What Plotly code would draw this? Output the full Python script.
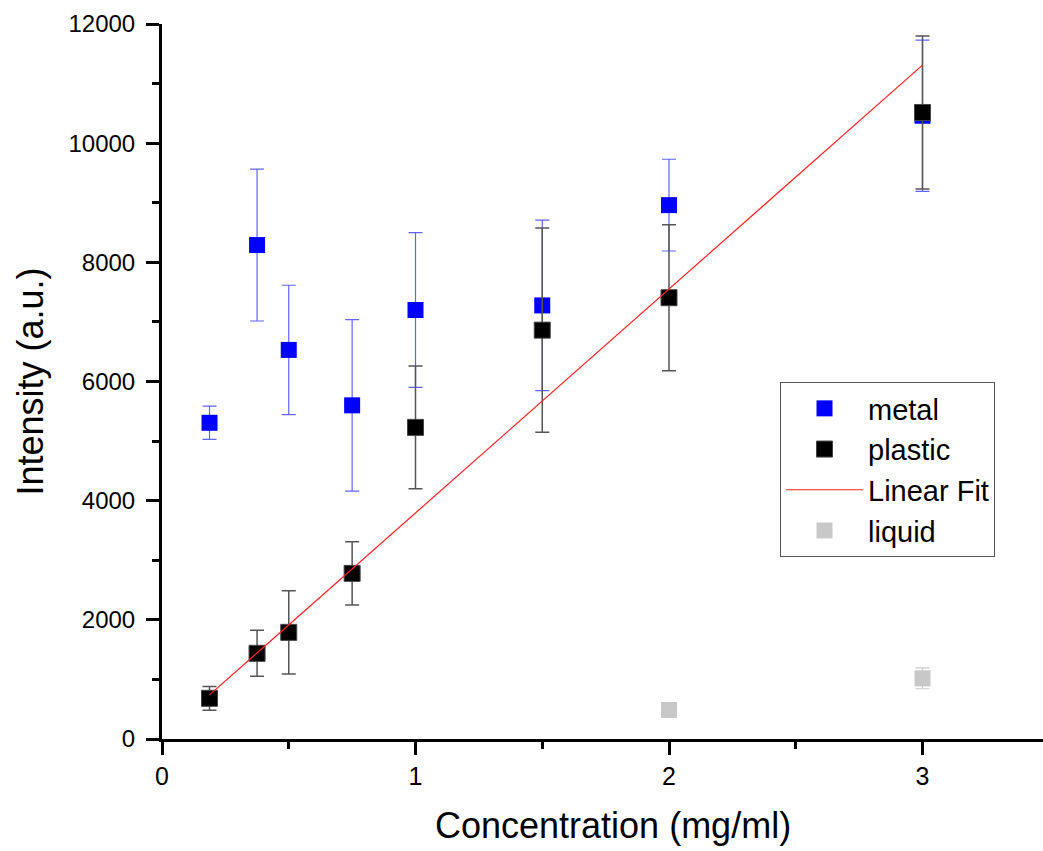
import plotly.graph_objects as go

# ---- data ----
conc = [0.1875, 0.375, 0.5, 0.75, 1.0, 1.5, 2.0, 3.0]

metal_y = [5307, 8290, 6530, 5600, 7200, 7277, 8960, 10460]
metal_err = [280, 1275, 1085, 1440, 1300, 1430, 770, 1270]

plastic_y = [683, 1438, 1790, 2780, 5230, 6862, 7406, 10515]
plastic_err = [200, 386, 700, 530, 1030, 1715, 1225, 1285]

fit_x = [0.1875, 3.0]
fit_y = [740, 11310]

liquid_x = [2.0, 3.0]
liquid_y = [487, 1018]
liquid_err = [0, 175]

x_ticks = [0, 1, 2, 3]
x_minor = [0.5, 1.5, 2.5]

FONT = "Liberation Sans, Arial, sans-serif"

fig = go.Figure()

fig.add_trace(go.Scatter(
    x=conc, y=metal_y, mode="markers", name="metal", legendgroup="a",
    marker=dict(symbol="square", size=16, color="#0000ff", line=dict(width=0)),
    error_y=dict(type="data", array=metal_err, visible=True,
                 color="rgba(70,70,255,0.85)", thickness=1.2, width=7),
))
fig.add_trace(go.Scatter(
    x=conc, y=plastic_y, mode="markers", name="plastic", legendgroup="b",
    marker=dict(symbol="square", size=16, color="#000000",
                line=dict(width=1, color="#444444")),
    error_y=dict(type="data", array=plastic_err, visible=True,
                 color="#555555", thickness=1.5, width=7),
))
fig.add_trace(go.Scatter(
    x=fit_x, y=fit_y, mode="lines", name="Linear Fit", legendgroup="c",
    line=dict(color="#ff2020", width=1.2),
))
fig.add_trace(go.Scatter(
    x=liquid_x, y=liquid_y, mode="markers", name="liquid", legendgroup="d",
    marker=dict(symbol="square", size=16, color="#c8c8c8", line=dict(width=0)),
    error_y=dict(type="data", array=liquid_err, visible=True,
                 color="#cccccc", thickness=1.2, width=7),
))

fig.update_layout(
    width=1043, height=851,
    margin=dict(l=162, r=0, t=24, b=112),
    paper_bgcolor="white", plot_bgcolor="white",
    font=dict(family=FONT, size=24, color="black"),
    showlegend=True,
    legend=dict(
        x=(780 - 162) / 881, y=(739 - 382) / 715,
        xanchor="left", yanchor="top",
        bgcolor="white", bordercolor="#555555", borderwidth=1,
        font=dict(family=FONT, size=29, color="black"),
        tracegroupgap=0, itemwidth=77,
    ),
    annotations=[dict(
        text="Concentration (mg/ml)", xref="paper", yref="paper",
        x=(613 - 162) / 881, y=(739 - 825) / 715,
        xanchor="center", yanchor="middle", showarrow=False,
        font=dict(family=FONT, size=36, color="black"),
    )],
)

fig.update_xaxes(
    range=[0, 881 / 253.5],
    showline=True, linecolor="black", linewidth=3, mirror=False,
    showgrid=False, zeroline=False,
    tickmode="array", tickvals=x_ticks, ticktext=[str(v) for v in x_ticks],
    ticks="outside", ticklen=13, tickwidth=3, tickcolor="black",
    minor=dict(tickmode="array", tickvals=x_minor, ticks="outside",
               ticklen=7, tickwidth=3, tickcolor="black"),
    tickfont=dict(family=FONT, size=25, color="black"),
)
fig.update_yaxes(
    range=[0, 12000],
    showline=True, linecolor="black", linewidth=3, mirror=False,
    showgrid=False, zeroline=False,
    tickmode="linear", tick0=0, dtick=2000, tickformat="d",
    ticks="outside", ticklen=13, tickwidth=3, tickcolor="black",
    ticklabelstandoff=6,
    minor=dict(dtick=1000, ticks="outside", ticklen=7, tickwidth=3, tickcolor="black"),
    tickfont=dict(family=FONT, size=24, color="black"),
    title=dict(text="Intensity (a.u.)", font=dict(family=FONT, size=36, color="black"),
               standoff=14),
)

fig.write_html("out.html")
